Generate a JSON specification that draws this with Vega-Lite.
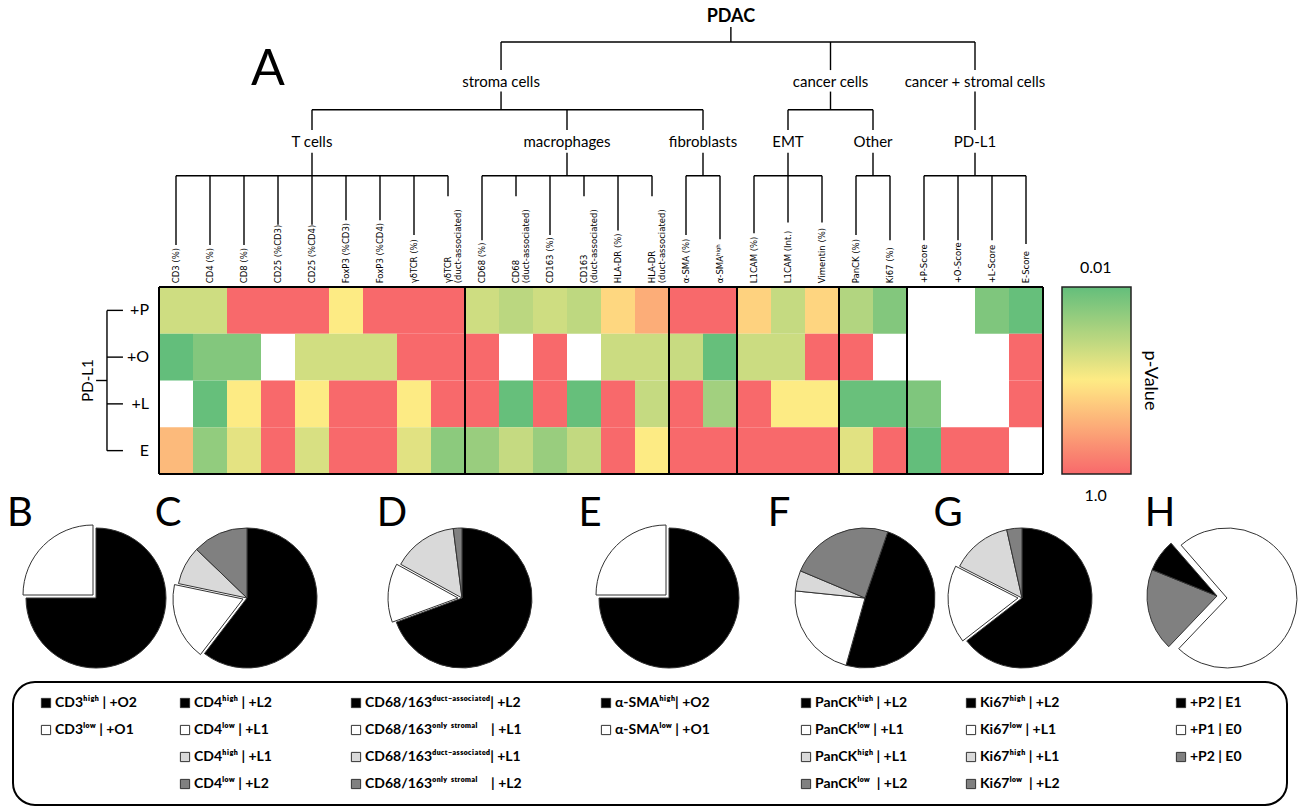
{
  "$schema": "https://vega.github.io/schema/vega-lite/v6.json",
  "padding": 0,
  "spacing": 0,
  "bounds": "flush",
  "center": true,
  "background": "white",
  "config": {"view": {"stroke": null}, "font": "Lato"},
  "datasets": {
    "cols": [
      {"k": "CD3", "c": 0, "label": "CD3 (%)"},
      {"k": "CD4", "c": 1, "label": "CD4 (%)"},
      {"k": "CD8", "c": 2, "label": "CD8 (%)"},
      {"k": "CD25a", "c": 3, "label": "CD25 (%CD3)"},
      {"k": "CD25b", "c": 4, "label": "CD25 (%CD4)"},
      {"k": "FoxP3a", "c": 5, "label": "FoxP3 (%CD3)"},
      {"k": "FoxP3b", "c": 6, "label": "FoxP3 (%CD4)"},
      {"k": "gdTCR", "c": 7, "label": "γδTCR (%)"},
      {"k": "gdTCRd", "c": 8, "label": "γδTCR\n(duct-associated)"},
      {"k": "CD68", "c": 9, "label": "CD68 (%)"},
      {"k": "CD68d", "c": 10, "label": "CD68\n(duct-associated)"},
      {"k": "CD163", "c": 11, "label": "CD163 (%)"},
      {"k": "CD163d", "c": 12, "label": "CD163\n(duct-associated)"},
      {"k": "HLADR", "c": 13, "label": "HLA-DR (%)"},
      {"k": "HLADRd", "c": 14, "label": "HLA-DR\n(duct-associated)"},
      {"k": "aSMA", "c": 15, "label": "α-SMA (%)"},
      {"k": "aSMAh", "c": 16, "label": "α-SMAʰⁱᵍʰ"},
      {"k": "L1CAM", "c": 17, "label": "L1CAM (%)"},
      {"k": "L1CAMi", "c": 18, "label": "L1CAM (Int.)"},
      {"k": "Vim", "c": 19, "label": "Vimentin (%)"},
      {"k": "PanCK", "c": 20, "label": "PanCK (%)"},
      {"k": "Ki67", "c": 21, "label": "Ki67 (%)"},
      {"k": "PS", "c": 22, "label": "+P-Score"},
      {"k": "OS", "c": 23, "label": "+O-Score"},
      {"k": "LS", "c": 24, "label": "+L-Score"},
      {"k": "ES", "c": 25, "label": "E-Score"}
    ],
    "rows": [
      {"row": "+P", "r": 3},
      {"row": "+O", "r": 2},
      {"row": "+L", "r": 1},
      {"row": "E", "r": 0}
    ],
    "cells": [
      {"k": "CD3", "row": "+P", "p": 0.35}, {"k": "CD4", "row": "+P", "p": 0.35}, {"k": "CD8", "row": "+P", "p": 1},
      {"k": "CD25a", "row": "+P", "p": 1}, {"k": "CD25b", "row": "+P", "p": 1}, {"k": "FoxP3a", "row": "+P", "p": 0.5},
      {"k": "FoxP3b", "row": "+P", "p": 1}, {"k": "gdTCR", "row": "+P", "p": 1}, {"k": "gdTCRd", "row": "+P", "p": 1},
      {"k": "CD68", "row": "+P", "p": 0.35}, {"k": "CD68d", "row": "+P", "p": 0.29}, {"k": "CD163", "row": "+P", "p": 0.35},
      {"k": "CD163d", "row": "+P", "p": 0.30}, {"k": "HLADR", "row": "+P", "p": 0.58}, {"k": "HLADRd", "row": "+P", "p": 0.74},
      {"k": "aSMA", "row": "+P", "p": 1}, {"k": "aSMAh", "row": "+P", "p": 1},
      {"k": "L1CAM", "row": "+P", "p": 0.60}, {"k": "L1CAMi", "row": "+P", "p": 0.32}, {"k": "Vim", "row": "+P", "p": 0.59},
      {"k": "PanCK", "row": "+P", "p": 0.26}, {"k": "Ki67", "row": "+P", "p": 0.11},
      {"k": "LS", "row": "+P", "p": 0.10}, {"k": "ES", "row": "+P", "p": 0.02},
      {"k": "CD3", "row": "+O", "p": 0.01}, {"k": "CD4", "row": "+O", "p": 0.11}, {"k": "CD8", "row": "+O", "p": 0.11},
      {"k": "CD25b", "row": "+O", "p": 0.36}, {"k": "FoxP3a", "row": "+O", "p": 0.36},
      {"k": "FoxP3b", "row": "+O", "p": 0.36}, {"k": "gdTCR", "row": "+O", "p": 1}, {"k": "gdTCRd", "row": "+O", "p": 1},
      {"k": "CD68", "row": "+O", "p": 1}, {"k": "CD163", "row": "+O", "p": 1},
      {"k": "HLADR", "row": "+O", "p": 0.34}, {"k": "HLADRd", "row": "+O", "p": 0.34},
      {"k": "aSMA", "row": "+O", "p": 0.33}, {"k": "aSMAh", "row": "+O", "p": 0.02},
      {"k": "L1CAM", "row": "+O", "p": 0.34}, {"k": "L1CAMi", "row": "+O", "p": 0.34}, {"k": "Vim", "row": "+O", "p": 1},
      {"k": "PanCK", "row": "+O", "p": 1}, {"k": "ES", "row": "+O", "p": 1},
      {"k": "CD4", "row": "+L", "p": 0.02}, {"k": "CD8", "row": "+L", "p": 0.5},
      {"k": "CD25a", "row": "+L", "p": 1}, {"k": "CD25b", "row": "+L", "p": 0.5}, {"k": "FoxP3a", "row": "+L", "p": 1},
      {"k": "FoxP3b", "row": "+L", "p": 1}, {"k": "gdTCR", "row": "+L", "p": 0.5}, {"k": "gdTCRd", "row": "+L", "p": 1},
      {"k": "CD68", "row": "+L", "p": 1}, {"k": "CD68d", "row": "+L", "p": 0.02}, {"k": "CD163", "row": "+L", "p": 1},
      {"k": "CD163d", "row": "+L", "p": 0.02}, {"k": "HLADR", "row": "+L", "p": 1}, {"k": "HLADRd", "row": "+L", "p": 0.32},
      {"k": "aSMA", "row": "+L", "p": 1}, {"k": "aSMAh", "row": "+L", "p": 0.21},
      {"k": "L1CAM", "row": "+L", "p": 1}, {"k": "L1CAMi", "row": "+L", "p": 0.5}, {"k": "Vim", "row": "+L", "p": 0.5},
      {"k": "PanCK", "row": "+L", "p": 0.03}, {"k": "Ki67", "row": "+L", "p": 0.03},
      {"k": "PS", "row": "+L", "p": 0.10}, {"k": "ES", "row": "+L", "p": 1},
      {"k": "CD3", "row": "E", "p": 0.69}, {"k": "CD4", "row": "E", "p": 0.16}, {"k": "CD8", "row": "E", "p": 0.42},
      {"k": "CD25a", "row": "E", "p": 1}, {"k": "CD25b", "row": "E", "p": 0.38}, {"k": "FoxP3a", "row": "E", "p": 1},
      {"k": "FoxP3b", "row": "E", "p": 1}, {"k": "gdTCR", "row": "E", "p": 0.41}, {"k": "gdTCRd", "row": "E", "p": 0.14},
      {"k": "CD68", "row": "E", "p": 0.18}, {"k": "CD68d", "row": "E", "p": 0.32}, {"k": "CD163", "row": "E", "p": 0.18},
      {"k": "CD163d", "row": "E", "p": 0.31}, {"k": "HLADR", "row": "E", "p": 1}, {"k": "HLADRd", "row": "E", "p": 0.5},
      {"k": "aSMA", "row": "E", "p": 1}, {"k": "aSMAh", "row": "E", "p": 1},
      {"k": "L1CAM", "row": "E", "p": 1}, {"k": "L1CAMi", "row": "E", "p": 1}, {"k": "Vim", "row": "E", "p": 1},
      {"k": "PanCK", "row": "E", "p": 0.41}, {"k": "Ki67", "row": "E", "p": 1},
      {"k": "PS", "row": "E", "p": 0.01}, {"k": "OS", "row": "E", "p": 1}, {"k": "LS", "row": "E", "p": 1}
    ],
    "edges": [
      {"x": 16.32, "y": 9.06, "x2": 16.32, "y2": 8.74},
      {"x": 9.56, "y": 8.74, "x2": 23.5, "y2": 8.74},
      {"x": 9.56, "y": 8.74, "x2": 9.56, "y2": 8.14},
      {"x": 19.25, "y": 8.74, "x2": 19.25, "y2": 8.14},
      {"x": 23.5, "y": 8.74, "x2": 23.5, "y2": 8.14},
      {"x": 9.56, "y": 7.68, "x2": 9.56, "y2": 7.29},
      {"x": 4, "y": 7.29, "x2": 15.5, "y2": 7.29},
      {"x": 4, "y": 7.29, "x2": 4, "y2": 6.86},
      {"x": 11.5, "y": 7.29, "x2": 11.5, "y2": 6.86},
      {"x": 15.5, "y": 7.29, "x2": 15.5, "y2": 6.86},
      {"x": 19.25, "y": 7.68, "x2": 19.25, "y2": 7.29},
      {"x": 18, "y": 7.29, "x2": 20.5, "y2": 7.29},
      {"x": 18, "y": 7.29, "x2": 18, "y2": 6.86},
      {"x": 20.5, "y": 7.29, "x2": 20.5, "y2": 6.86},
      {"x": 23.5, "y": 7.68, "x2": 23.5, "y2": 6.86},
      {"x": 4, "y": 6.37, "x2": 4, "y2": 5.88},
      {"x": 11.5, "y": 6.37, "x2": 11.5, "y2": 5.88},
      {"x": 15.5, "y": 6.37, "x2": 15.5, "y2": 5.88},
      {"x": 18, "y": 6.37, "x2": 18, "y2": 5.88},
      {"x": 20.5, "y": 6.37, "x2": 20.5, "y2": 5.88},
      {"x": 23.5, "y": 6.37, "x2": 23.5, "y2": 5.88},
      {"x": 0, "y": 5.88, "x2": 8, "y2": 5.88},
      {"x": 9, "y": 5.88, "x2": 14, "y2": 5.88},
      {"x": 15, "y": 5.88, "x2": 16, "y2": 5.88},
      {"x": 17, "y": 5.88, "x2": 19, "y2": 5.88},
      {"x": 20, "y": 5.88, "x2": 21, "y2": 5.88},
      {"x": 22, "y": 5.88, "x2": 25, "y2": 5.88},
      {"x": 0, "y": 5.88, "x2": 0, "y2": 4.40}, {"x": 1, "y": 5.88, "x2": 1, "y2": 4.40},
      {"x": 2, "y": 5.88, "x2": 2, "y2": 4.40}, {"x": 3, "y": 5.88, "x2": 3, "y2": 4.83},
      {"x": 4, "y": 5.88, "x2": 4, "y2": 4.83}, {"x": 5, "y": 5.88, "x2": 5, "y2": 4.93},
      {"x": 6, "y": 5.88, "x2": 6, "y2": 4.93}, {"x": 7, "y": 5.88, "x2": 7, "y2": 4.61},
      {"x": 8, "y": 5.88, "x2": 8, "y2": 5.44}, {"x": 9, "y": 5.88, "x2": 9, "y2": 4.50},
      {"x": 10, "y": 5.88, "x2": 10, "y2": 5.44}, {"x": 11, "y": 5.88, "x2": 11, "y2": 4.61},
      {"x": 12, "y": 5.88, "x2": 12, "y2": 5.44}, {"x": 13, "y": 5.88, "x2": 13, "y2": 4.71},
      {"x": 14, "y": 5.88, "x2": 14, "y2": 5.44}, {"x": 15, "y": 5.88, "x2": 15, "y2": 4.61},
      {"x": 16, "y": 5.88, "x2": 16, "y2": 4.52}, {"x": 17, "y": 5.88, "x2": 17, "y2": 4.65},
      {"x": 18, "y": 5.88, "x2": 18, "y2": 4.88}, {"x": 19, "y": 5.88, "x2": 19, "y2": 4.88},
      {"x": 20, "y": 5.88, "x2": 20, "y2": 4.61}, {"x": 21, "y": 5.88, "x2": 21, "y2": 4.50},
      {"x": 22, "y": 5.88, "x2": 22, "y2": 4.50}, {"x": 23, "y": 5.88, "x2": 23, "y2": 4.50},
      {"x": 24, "y": 5.88, "x2": 24, "y2": 4.50}, {"x": 25, "y": 5.88, "x2": 25, "y2": 4.42},
      {"x": -2.03, "y": 3, "x2": -2.03, "y2": 0},
      {"x": -2.03, "y": 3, "x2": -1.56, "y2": 3},
      {"x": -2.03, "y": 2, "x2": -1.56, "y2": 2},
      {"x": -2.03, "y": 1, "x2": -1.56, "y2": 1},
      {"x": -2.03, "y": 0, "x2": -1.56, "y2": 0},
      {"x": -2.35, "y": 1.5, "x2": -2.03, "y2": 1.5}
    ],
    "frame": [
      {"x": -0.5, "y": 3.5, "x2": 25.5, "y2": 3.5},
      {"x": -0.5, "y": -0.5, "x2": 25.5, "y2": -0.5},
      {"x": -0.5, "y": -0.5, "x2": -0.5, "y2": 3.5},
      {"x": 25.5, "y": -0.5, "x2": 25.5, "y2": 3.5},
      {"x": 8.5, "y": -0.5, "x2": 8.5, "y2": 3.5},
      {"x": 14.5, "y": -0.5, "x2": 14.5, "y2": 3.5},
      {"x": 16.5, "y": -0.5, "x2": 16.5, "y2": 3.5},
      {"x": 19.5, "y": -0.5, "x2": 19.5, "y2": 3.5},
      {"x": 21.5, "y": -0.5, "x2": 21.5, "y2": 3.5}
    ],
    "nodes": [
      {"label": "PDAC", "x": 16.32, "y": 9.275},
      {"label": "stroma cells", "x": 9.56, "y": 7.89},
      {"label": "cancer cells", "x": 19.25, "y": 7.89},
      {"label": "cancer + stromal cells", "x": 23.5, "y": 7.89},
      {"label": "T cells", "x": 4, "y": 6.6},
      {"label": "macrophages", "x": 11.5, "y": 6.6},
      {"label": "fibroblasts", "x": 15.5, "y": 6.6},
      {"label": "EMT", "x": 18, "y": 6.6},
      {"label": "Other", "x": 20.5, "y": 6.6},
      {"label": "PD-L1", "x": 23.5, "y": 6.6}
    ],
    "pies": [
      {"pie": "B", "n": 0, "shade": "black", "k": 0, "v": 0.75},
      {"pie": "B", "n": 0, "shade": "white", "k": 1, "v": 0.25},
      {"pie": "C", "n": 1, "shade": "black", "k": 0, "v": 0.604},
      {"pie": "C", "n": 1, "shade": "white", "k": 1, "v": 0.179},
      {"pie": "C", "n": 1, "shade": "light", "k": 2, "v": 0.089},
      {"pie": "C", "n": 1, "shade": "dark", "k": 3, "v": 0.128},
      {"pie": "D", "n": 2, "shade": "black", "k": 0, "v": 0.694},
      {"pie": "D", "n": 2, "shade": "white", "k": 1, "v": 0.136},
      {"pie": "D", "n": 2, "shade": "light", "k": 2, "v": 0.15},
      {"pie": "D", "n": 2, "shade": "dark", "k": 3, "v": 0.02},
      {"pie": "E", "n": 3, "shade": "black", "k": 0, "v": 0.75},
      {"pie": "E", "n": 3, "shade": "white", "k": 1, "v": 0.25},
      {"pie": "F", "n": 4, "shade": "black", "k": 0, "v": 0.49},
      {"pie": "F", "n": 4, "shade": "white", "k": 1, "v": 0.222},
      {"pie": "F", "n": 4, "shade": "light", "k": 2, "v": 0.047},
      {"pie": "F", "n": 4, "shade": "dark", "k": 3, "v": 0.239},
      {"pie": "G", "n": 5, "shade": "black", "k": 0, "v": 0.645},
      {"pie": "G", "n": 5, "shade": "white", "k": 1, "v": 0.18},
      {"pie": "G", "n": 5, "shade": "light", "k": 2, "v": 0.14},
      {"pie": "G", "n": 5, "shade": "dark", "k": 3, "v": 0.035},
      {"pie": "H", "n": 6, "shade": "white", "k": 0, "v": 0.735},
      {"pie": "H", "n": 6, "shade": "dark", "k": 1, "v": 0.19},
      {"pie": "H", "n": 6, "shade": "black", "k": 2, "v": 0.075}
    ],
    "letters": [
      {"pie": "B", "n": 0}, {"pie": "C", "n": 1}, {"pie": "D", "n": 2}, {"pie": "E", "n": 3},
      {"pie": "F", "n": 4}, {"pie": "G", "n": 5}, {"pie": "H", "n": 6}
    ],
    "legend": [
      {"col": 0, "line": 0, "shade": "black", "text": "CD3ʰⁱᵍʰ | +O2"},
      {"col": 0, "line": 1, "shade": "white", "text": "CD3ˡᵒʷ | +O1"},
      {"col": 1, "line": 0, "shade": "black", "text": "CD4ʰⁱᵍʰ | +L2"},
      {"col": 1, "line": 1, "shade": "white", "text": "CD4ˡᵒʷ | +L1"},
      {"col": 1, "line": 2, "shade": "light", "text": "CD4ʰⁱᵍʰ | +L1"},
      {"col": 1, "line": 3, "shade": "dark", "text": "CD4ˡᵒʷ | +L2"},
      {"col": 2, "line": 0, "shade": "black", "text": "CD68/163ᵈᵘᶜᵗ⁻ᵃˢˢᵒᶜⁱᵃᵗᵉᵈ| +L2"},
      {"col": 2, "line": 1, "shade": "white", "text": "CD68/163ᵒⁿˡʸ ˢᵗʳᵒᵐᵃˡ\u00a0\u00a0\u00a0\u00a0| +L1"},
      {"col": 2, "line": 2, "shade": "light", "text": "CD68/163ᵈᵘᶜᵗ⁻ᵃˢˢᵒᶜⁱᵃᵗᵉᵈ| +L1"},
      {"col": 2, "line": 3, "shade": "dark", "text": "CD68/163ᵒⁿˡʸ ˢᵗʳᵒᵐᵃˡ\u00a0\u00a0\u00a0\u00a0| +L2"},
      {"col": 3, "line": 0, "shade": "black", "text": "α-SMAʰⁱᵍʰ| +O2"},
      {"col": 3, "line": 1, "shade": "white", "text": "α-SMAˡᵒʷ | +O1"},
      {"col": 4, "line": 0, "shade": "black", "text": "PanCKʰⁱᵍʰ | +L2"},
      {"col": 4, "line": 1, "shade": "white", "text": "PanCKˡᵒʷ | +L1"},
      {"col": 4, "line": 2, "shade": "light", "text": "PanCKʰⁱᵍʰ | +L1"},
      {"col": 4, "line": 3, "shade": "dark", "text": "PanCKˡᵒʷ\u00a0 | +L2"},
      {"col": 5, "line": 0, "shade": "black", "text": "Ki67ʰⁱᵍʰ | +L2"},
      {"col": 5, "line": 1, "shade": "white", "text": "Ki67ˡᵒʷ | +L1"},
      {"col": 5, "line": 2, "shade": "light", "text": "Ki67ʰⁱᵍʰ | +L1"},
      {"col": 5, "line": 3, "shade": "dark", "text": "Ki67ˡᵒʷ\u00a0 | +L2"},
      {"col": 6, "line": 0, "shade": "black", "text": "+P2 | E1"},
      {"col": 6, "line": 1, "shade": "white", "text": "+P1 | E0"},
      {"col": 6, "line": 2, "shade": "dark", "text": "+P2 | E0"}
    ]
  },
  "vconcat": [
    {
      "width": 1300,
      "height": 500,
      "resolve": {"scale": {"x": "independent", "y": "independent"}},
      "layer": [
        {
          "data": {"name": "cells"},
          "mark": {"type": "rect"},
          "encoding": {
            "x": {"field": "k", "type": "nominal", "scale": {"domain": ["CD3", "CD4", "CD8", "CD25a", "CD25b", "FoxP3a", "FoxP3b", "gdTCR", "gdTCRd", "CD68", "CD68d", "CD163", "CD163d", "HLADR", "HLADRd", "aSMA", "aSMAh", "L1CAM", "L1CAMi", "Vim", "PanCK", "Ki67", "PS", "OS", "LS", "ES"], "range": [159, 1043], "paddingInner": 0, "paddingOuter": 0}, "axis": null},
            "y": {"field": "row", "type": "nominal", "scale": {"domain": ["+P", "+O", "+L", "E"], "range": [287, 474], "paddingInner": 0, "paddingOuter": 0}, "axis": null},
            "color": {
              "field": "p", "type": "quantitative",
              "scale": {"domain": [1, 0.505, 0.01], "range": ["#f8696b", "#ffeb84", "#63be7b"], "interpolate": "rgb"},
              "legend": {
                "orient": "none", "legendX": 1062, "legendY": 287, "direction": "vertical",
                "gradientLength": 187, "gradientThickness": 69, "title": null,
                "labelOpacity": 0, "tickCount": 2,
                "gradientStrokeColor": "#222", "gradientStrokeWidth": 1.5
              }
            }
          }
        },
        {
          "data": {"name": "frame"},
          "mark": {"type": "rule", "color": "#000", "strokeWidth": 2},
          "encoding": {
            "x": {"field": "x", "type": "quantitative", "scale": {"domain": [-5.17647, 33.05882], "nice": false, "zero": false}, "axis": null},
            "x2": {"field": "x2"},
            "y": {"field": "y", "type": "quantitative", "scale": {"domain": [-1.05615, 9.63904], "nice": false, "zero": false}, "axis": null},
            "y2": {"field": "y2"}
          }
        },
        {
          "data": {"name": "edges"},
          "mark": {"type": "rule", "color": "#000", "strokeWidth": 1.4},
          "encoding": {
            "x": {"field": "x", "type": "quantitative", "scale": {"domain": [-5.17647, 33.05882], "nice": false, "zero": false}, "axis": null},
            "x2": {"field": "x2"},
            "y": {"field": "y", "type": "quantitative", "scale": {"domain": [-1.05615, 9.63904], "nice": false, "zero": false}, "axis": null},
            "y2": {"field": "y2"}
          }
        },
        {
          "data": {"name": "cols"},
          "mark": {"type": "text", "angle": 270, "align": "left", "baseline": "middle", "fontSize": 8.5, "font": "DejaVu Sans", "lineBreak": "\n", "lineHeight": 9.5, "color": "#000"},
          "encoding": {
            "x": {"field": "c", "type": "quantitative", "scale": {"domain": [-5.17647, 33.05882], "nice": false, "zero": false}, "axis": null},
            "y": {"datum": 3.58, "type": "quantitative", "scale": {"domain": [-1.05615, 9.63904], "nice": false, "zero": false}, "axis": null},
            "text": {"field": "label", "type": "nominal"}
          }
        },
        {
          "data": {"name": "nodes"},
          "transform": [{"filter": "datum.label != 'PDAC'"}],
          "mark": {"type": "text", "fontSize": 15, "baseline": "middle", "color": "#000"},
          "encoding": {
            "x": {"field": "x", "type": "quantitative", "scale": {"domain": [-5.17647, 33.05882], "nice": false, "zero": false}, "axis": null},
            "y": {"field": "y", "type": "quantitative", "scale": {"domain": [-1.05615, 9.63904], "nice": false, "zero": false}, "axis": null},
            "text": {"field": "label", "type": "nominal"}
          }
        },
        {
          "data": {"name": "nodes"},
          "transform": [{"filter": "datum.label == 'PDAC'"}],
          "mark": {"type": "text", "fontSize": 18, "fontWeight": "bold", "baseline": "middle", "color": "#000"},
          "encoding": {
            "x": {"field": "x", "type": "quantitative", "scale": {"domain": [-5.17647, 33.05882], "nice": false, "zero": false}, "axis": null},
            "y": {"field": "y", "type": "quantitative", "scale": {"domain": [-1.05615, 9.63904], "nice": false, "zero": false}, "axis": null},
            "text": {"field": "label", "type": "nominal"}
          }
        },
        {
          "data": {"name": "rows"},
          "mark": {"type": "text", "align": "right", "baseline": "middle", "fontSize": 16, "color": "#000"},
          "encoding": {
            "x": {"datum": -0.794, "type": "quantitative", "scale": {"domain": [-5.17647, 33.05882], "nice": false, "zero": false}, "axis": null},
            "y": {"field": "r", "type": "quantitative", "scale": {"domain": [-1.05615, 9.63904], "nice": false, "zero": false}, "axis": null},
            "text": {"field": "row", "type": "nominal"}
          }
        },
        {
          "data": {"values": [{"t": "PD-L1"}]},
          "mark": {"type": "text", "angle": 270, "align": "center", "baseline": "middle", "fontSize": 15, "color": "#000"},
          "encoding": {
            "x": {"datum": -2.588, "type": "quantitative", "scale": {"domain": [-5.17647, 33.05882], "nice": false, "zero": false}, "axis": null},
            "y": {"datum": 1.5, "type": "quantitative", "scale": {"domain": [-1.05615, 9.63904], "nice": false, "zero": false}, "axis": null},
            "text": {"field": "t", "type": "nominal"}
          }
        },
        {
          "data": {"values": [{"t": "A"}]},
          "mark": {"type": "text", "align": "center", "baseline": "middle", "fontSize": 50, "color": "#000"},
          "encoding": {
            "x": {"datum": 2.706, "type": "quantitative", "scale": {"domain": [-5.17647, 33.05882], "nice": false, "zero": false}, "axis": null},
            "y": {"datum": 8.14, "type": "quantitative", "scale": {"domain": [-1.05615, 9.63904], "nice": false, "zero": false}, "axis": null},
            "text": {"field": "t", "type": "nominal"}
          }
        },
        {
          "data": {"values": [{"t": "0.01", "v": 3.9}, {"t": "1.0", "v": -0.97}]},
          "mark": {"type": "text", "align": "center", "baseline": "middle", "fontSize": 16, "color": "#000"},
          "encoding": {
            "x": {"datum": 27.05, "type": "quantitative", "scale": {"domain": [-5.17647, 33.05882], "nice": false, "zero": false}, "axis": null},
            "y": {"field": "v", "type": "quantitative", "scale": {"domain": [-1.05615, 9.63904], "nice": false, "zero": false}, "axis": null},
            "text": {"field": "t", "type": "nominal"}
          }
        },
        {
          "data": {"values": [{"t": "p-Value"}]},
          "mark": {"type": "text", "angle": 90, "align": "center", "baseline": "middle", "fontSize": 18, "color": "#000"},
          "encoding": {
            "x": {"datum": 28.65, "type": "quantitative", "scale": {"domain": [-5.17647, 33.05882], "nice": false, "zero": false}, "axis": null},
            "y": {"datum": 1.5, "type": "quantitative", "scale": {"domain": [-1.05615, 9.63904], "nice": false, "zero": false}, "axis": null},
            "text": {"field": "t", "type": "nominal"}
          }
        }
      ]
    },
    {
      "width": 1300,
      "height": 182,
      "resolve": {"scale": {"x": "independent"}},
      "layer": [
        {
          "data": {"name": "pies"},
          "transform": [{"stack": "v", "groupby": ["pie"], "sort": [{"field": "k"}], "offset": "normalize", "as": ["t0", "t1"]}],
          "encoding": {
            "x": {"field": "n", "type": "quantitative", "stack": null, "scale": {"domain": [0, 1, 2, 3, 4, 5, 6], "range": [96, 247, 462, 669, 865, 1022, 1227], "nice": false, "zero": false}, "axis": null},
            "theta": {"field": "t0", "type": "quantitative", "stack": null, "scale": {"domain": [0, 1], "range": [0, 6.283185]}},
            "theta2": {"field": "t1"},
            "fill": {"field": "shade", "type": "nominal", "scale": {"domain": ["black", "white", "light", "dark"], "range": ["#000000", "#ffffff", "#d9d9d9", "#808080"]}, "legend": null}
          },
          "layer": [
            {
              "transform": [{"filter": "indexof(['B','C','D','E','G'], datum.pie) >= 0 && datum.shade != 'white'"}],
              "mark": {"type": "arc", "radius": 70, "stroke": "#333", "strokeWidth": 1, "yOffset": 7}
            },
            {
              "transform": [{"filter": "(datum.pie == 'B' || datum.pie == 'E') && datum.shade == 'white'"}],
              "mark": {"type": "arc", "radius": 70, "stroke": "#333", "strokeWidth": 1, "xOffset": -3, "yOffset": 4}
            },
            {
              "transform": [{"filter": "datum.pie == 'C' && datum.shade == 'white'"}],
              "mark": {"type": "arc", "radius": 70, "stroke": "#333", "strokeWidth": 1, "xOffset": -4, "yOffset": 8}
            },
            {
              "transform": [{"filter": "(datum.pie == 'D' || datum.pie == 'G') && datum.shade == 'white'"}],
              "mark": {"type": "arc", "radius": 70, "stroke": "#333", "strokeWidth": 1, "xOffset": -4, "yOffset": 7}
            },
            {
              "transform": [{"filter": "datum.pie == 'F'"}],
              "mark": {"type": "arc", "radius": 70, "stroke": "#333", "strokeWidth": 1, "yOffset": 7, "thetaOffset": 0.3316, "theta2Offset": 0.3316}
            },
            {
              "transform": [{"filter": "datum.pie == 'H' && datum.shade == 'white'"}],
              "mark": {"type": "arc", "radius": 70, "stroke": "#333", "strokeWidth": 1, "yOffset": 7, "thetaOffset": 5.5676, "theta2Offset": 5.5676}
            },
            {
              "transform": [{"filter": "datum.pie == 'H' && datum.shade != 'white'"}],
              "mark": {"type": "arc", "radius": 70, "stroke": "#333", "strokeWidth": 1, "xOffset": -10, "yOffset": 5, "thetaOffset": 5.5676, "theta2Offset": 5.5676}
            }
          ]
        },
        {
          "data": {"name": "letters"},
          "mark": {"type": "text", "fontSize": 40, "baseline": "middle", "align": "center", "dy": -77, "color": "#000"},
          "encoding": {
            "x": {"field": "n", "type": "quantitative", "scale": {"domain": [0, 1, 2, 3, 4, 5, 6], "range": [20, 168, 392, 590, 779, 948, 1160], "nice": false, "zero": false}, "axis": null},
            "text": {"field": "pie", "type": "nominal"}
          }
        }
      ]
    },
    {
      "width": 1274,
      "height": 123,
      "view": {"stroke": "#000", "strokeWidth": 2, "cornerRadius": 22},
      "data": {"name": "legend"},
      "encoding": {
        "x": {"field": "col", "type": "quantitative", "scale": {"domain": [0, 1, 2, 3, 4, 5, 6], "range": [33, 172, 343, 593, 793, 958, 1168], "nice": false, "zero": false}, "axis": null},
        "y": {"field": "line", "type": "quantitative", "scale": {"domain": [0, 3], "range": [21, 102], "nice": false, "zero": false}, "axis": null}
      },
      "layer": [
        {
          "mark": {"type": "point", "shape": "square", "size": 85, "filled": true, "opacity": 1, "stroke": "#333", "strokeWidth": 1},
          "encoding": {
            "fill": {"field": "shade", "type": "nominal", "scale": {"domain": ["black", "white", "light", "dark"], "range": ["#000000", "#ffffff", "#d9d9d9", "#808080"]}, "legend": null}
          }
        },
        {
          "mark": {"type": "text", "align": "left", "baseline": "middle", "dx": 9, "fontSize": 14, "fontWeight": "bold", "color": "#000"},
          "encoding": {"text": {"field": "text", "type": "nominal"}}
        }
      ]
    }
  ]
}
